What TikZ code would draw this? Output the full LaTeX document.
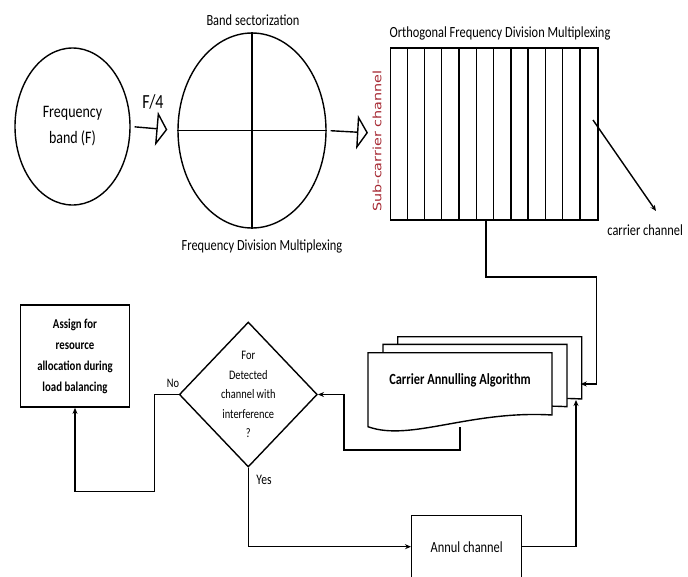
\documentclass[tikz,border=0pt]{standalone}
\usepackage{fontspec}
\setmainfont{Carlito}[FakeStretch=0.8]
\newfontfamily\subfont{DejaVu Sans}[FakeStretch=1.25]
\usepackage{tikz}
\usepackage{xcolor}
\usetikzlibrary{
    arrows.meta,
    shapes.geometric,
    calc,
    positioning
}
\definecolor{subred}{RGB}{165,40,50}

\begin{document}
\begin{tikzpicture}[x=1pt, y=-1pt,
        line width=1.4pt,
        lbl/.style={font=\fontsize{15.5}{18}\selectfont},
        blk/.style={draw, fill=white, align=center},
        arr/.style={-{Stealth[length=6pt, width=5pt]}},
        openarr/.style={-{Triangle[open, length=11pt, width=34pt, line width=1.4pt]}}]
                                \useasboundingbox (0, 0) rectangle (688, 576);
                                % band and sectors
                                \node[ellipse, draw, minimum width=115pt, minimum height=157pt, align=center,
                                    font=\fontsize{17.5}{26}\selectfont] (band) at (72.5, 126.5) {Frequency\\band (F)};
                                \node[ellipse, draw, minimum width=148pt, minimum height=195pt] (sect) at (252, 130.5) {};
                                \draw (sect.north) -- (sect.south)
                                (sect.west) -- (sect.east);
                                \node[lbl] (sectt) at (253, 20) {Band sectorization};
                                \node[lbl] (fdm) at (262, 246) {Frequency Division Multiplexing};
                                \node[font=\fontsize{20}{22}\selectfont] (quart) at (153, 102) {F/4};
                                \draw[openarr, shorten <=4pt, shorten >=10pt] (band.east) -- (sect.west);
                                % ofdm
                                \node[draw, minimum width=207.3pt, minimum height=172pt] (ofdm) at (494.3, 134) {};
                                \foreach \i in {1,...,11}
                                    \draw ([xshift=\i*17.28pt]ofdm.north west) -- ([xshift=\i*17.28pt]ofdm.south west);
                                \draw[openarr, shorten <=4pt, shorten >=22pt] (sect.east) -- (ofdm.west);
                                \node[lbl] (ofdmt) at (500, 33) {Orthogonal Frequency Division Multiplexing};
                                \node[rotate=90, text=subred, font=\subfont\fontsize{11.5}{13}\selectfont] (sub) at (377, 141) {Sub-carrier channel};
                                \coordinate (ccfrom) at (593, 120);
                                \coordinate (ccto) at (656, 211);
                                \draw[arr] (ccfrom) -- (ccto);
                                \node[lbl, anchor=east] (cc) at (687, 230) {carrier channel};
                                % carrier annulling documents
                                \foreach \dx/\dy in {29.7/-16, 15/-8.3, 0/0}
                                    \draw[fill=white, shift={(\dx, \dy)}]
                                    (368, 352.7) -- (552, 352.7) -- (552, 415)
                                    .. controls (470, 410) and (410, 442) .. (368, 426.7) -- cycle;
                                \node[lbl, font=\fontsize{15.5}{18}\selectfont\bfseries] (caa) at (460, 380) {Carrier Annulling Algorithm};
                                \coordinate (docside) at (580.7, 384);
                                \coordinate (docin) at (576, 400);
                                \coordinate (docout) at (460, 427);
                                \draw[arr] ([xshift=-8.3pt]ofdm.south) |- (596.7, 277) |- (docside);
                                % decision
                                \node[diamond, draw, minimum width=138pt, minimum height=145pt] (dec) at (248.3, 394.5) {};
                                \node[align=center, font=\fontsize{13}{19.5}\selectfont] (dect) at (dec) {For\\Detected\\channel with\\interference\\?};
                                \draw[arr] (docout) |- (344, 450) |- (dec.east);
                                \node[blk, minimum width=108.6pt, minimum height=102.3pt,
                                    font=\fontsize{13.5}{21}\selectfont\bfseries] (assign) at (75, 356) {Assign for\\resource\\allocation during\\load balancing};
                                \draw[arr] (dec.west) -| (154.3, 491.7) -| (assign.south);
                                \node[font=\fontsize{13}{15}\selectfont] (no) at (173, 383) {No};
                                \node[blk, lbl, minimum width=110pt, minimum height=62pt] (annul) at (466.7, 546.7) {Annul channel};
                                \draw[arr] (dec.south) |- (annul.west);
                                \node[font=\fontsize{14.5}{16}\selectfont] (yes) at (264, 480) {Yes};
                                \draw[arr] (annul.east) -| (docin);
                            \end{tikzpicture}
\end{document}
